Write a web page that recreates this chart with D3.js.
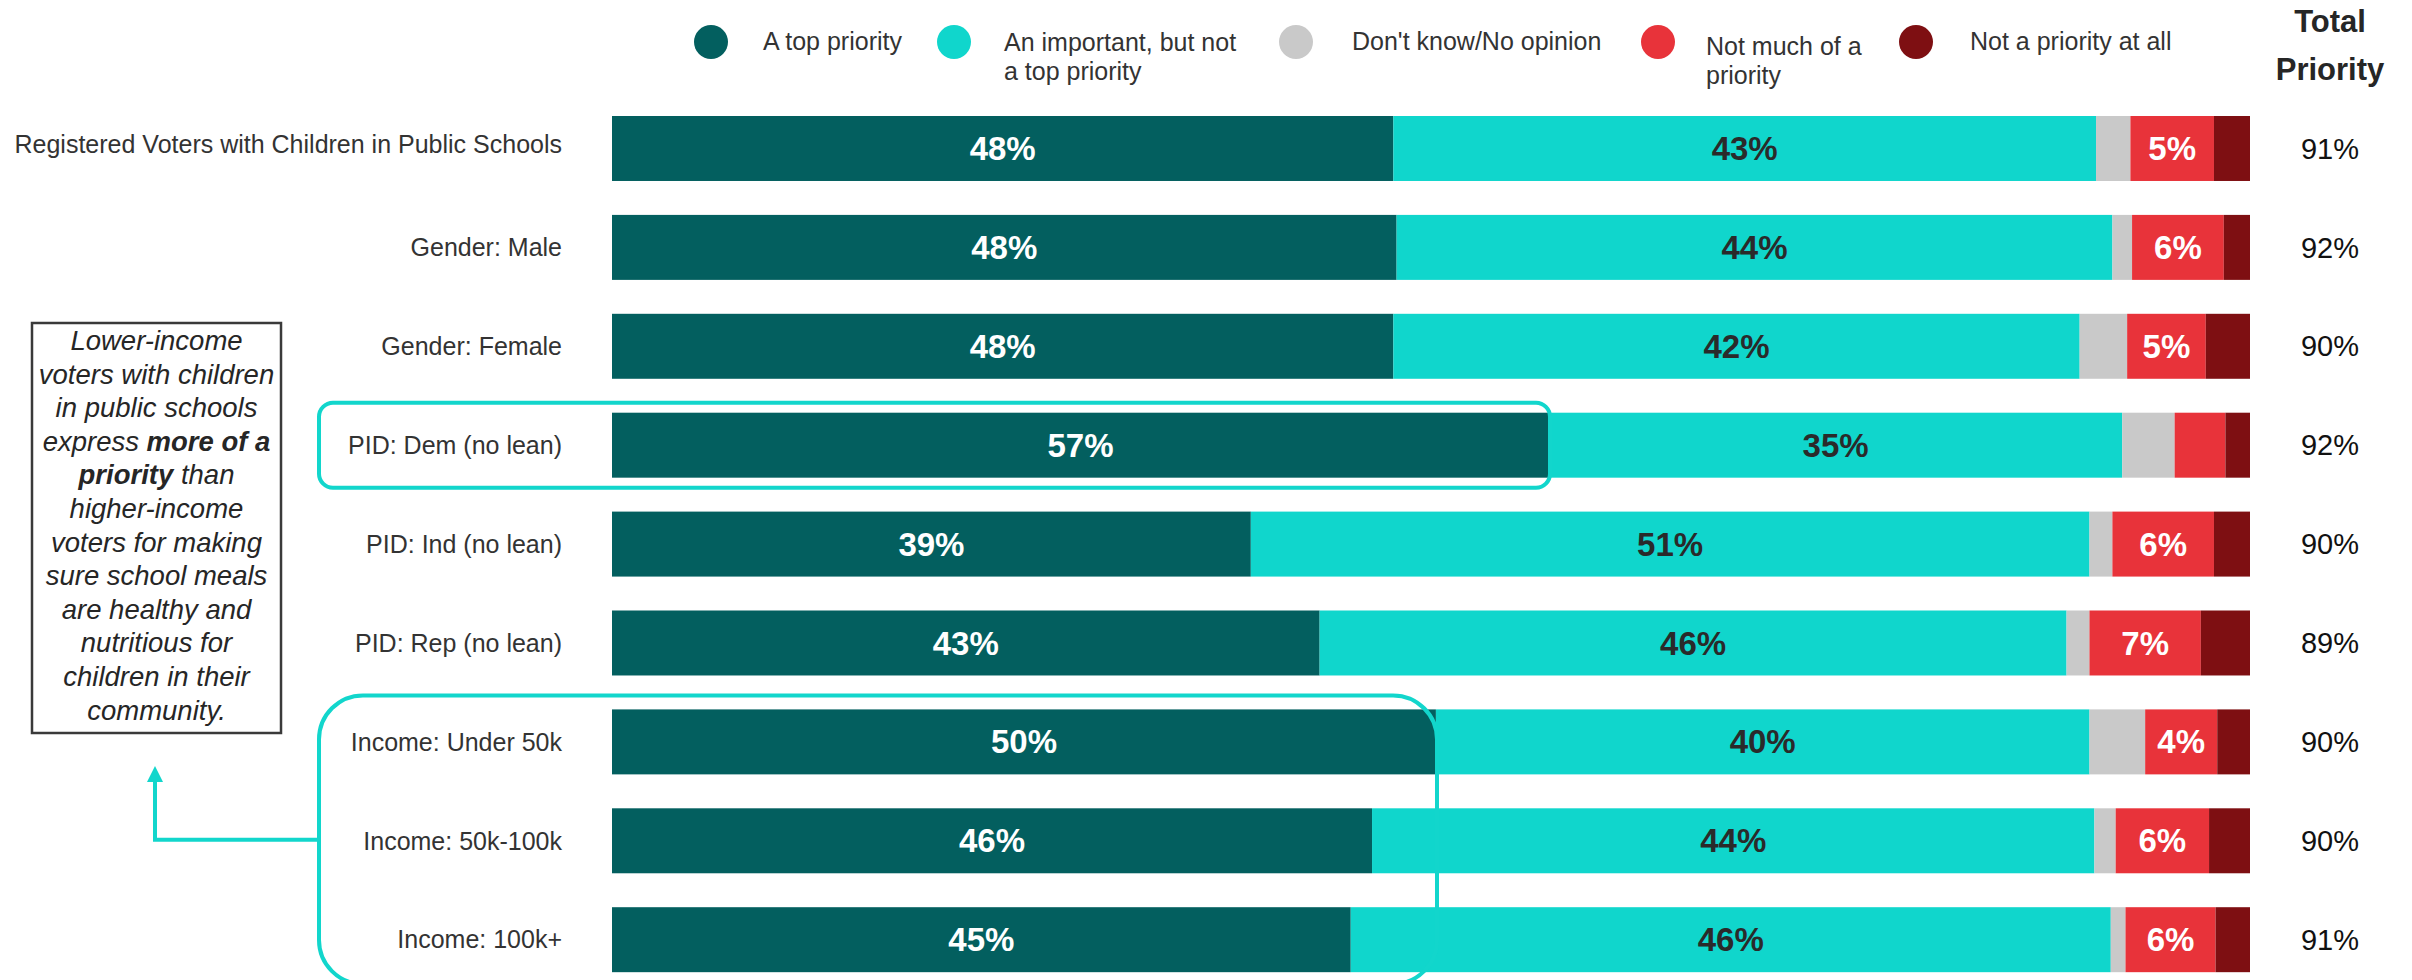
<!DOCTYPE html>
<html>
<head>
<meta charset="utf-8">
<script src="https://cdn.jsdelivr.net/npm/d3@7"></script>
<style>
  html, body { margin: 0; padding: 0; background: #fff; }
  svg { display: block; font-family: "Liberation Sans", Arial, sans-serif; }
</style>
</head>
<body>
<svg id="chart" width="2412" height="980"></svg>
<script>
// ---------------- DATA ----------------
const categories = [
  "Registered Voters with Children in Public Schools",
  "Gender: Male",
  "Gender: Female",
  "PID: Dem (no lean)",
  "PID: Ind (no lean)",
  "PID: Rep (no lean)",
  "Income: Under 50k",
  "Income: 50k-100k",
  "Income: 100k+"
];
const seriesNames = [
  "A top priority",
  "An important, but not a top priority",
  "Don't know/No opinion",
  "Not much of a priority",
  "Not a priority at all"
];
const legendLabels = [
  ["A top priority"],
  ["An important, but not", "a top priority"],
  ["Don't know/No opinion"],
  ["Not much of a", "priority"],
  ["Not a priority at all"]
];
const topPriority   = [47.7, 47.9, 47.7, 57.2, 39.0, 43.2, 50.3, 46.4, 45.1];
const importantNot  = [42.9, 43.7, 41.9, 35.0, 51.2, 45.6, 39.9, 44.1, 46.4];
const dontKnow      = [ 2.1,  1.2,  2.9,  3.2,  1.4,  1.4,  3.4,  1.3,  0.9];
const notMuch       = [ 5.1,  5.6,  4.8,  3.1,  6.2,  6.8,  4.4,  5.7,  5.5];
const notAtAll      = [ 2.2,  1.6,  2.7,  1.5,  2.2,  3.0,  2.0,  2.5,  2.1];
const totalPriority = [91, 92, 90, 92, 90, 89, 90, 90, 91];
const totalHeader = ["Total", "Priority"];
const annotationLines = [
  [["Lower-income", false]],
  [["voters with children", false]],
  [["in public schools", false]],
  [["express ", false], ["more of a", true]],
  [["priority", true], [" than", false]],
  [["higher-income", false]],
  [["voters for making", false]],
  [["sure school meals", false]],
  [["are healthy and", false]],
  [["nutritious for", false]],
  [["children in their", false]],
  [["community.", false]]
];

// ---------------- STYLE ----------------
const colors = ["#035F5F", "#10D6CC", "#C9C9C9", "#E8333A", "#7E0F12"];
const labelColors = ["#ffffff", "#2a2a2a", null, "#ffffff", null];
const accent = "#12D6CC";

const svg = d3.select("#chart");

const table = categories.map((c, i) => ({
  cat: c,
  s0: topPriority[i], s1: importantNot[i], s2: dontKnow[i], s3: notMuch[i], s4: notAtAll[i]
}));
const keys = ["s0", "s1", "s2", "s3", "s4"];
const stacked = d3.stack().keys(keys)(table);

const x = d3.scaleLinear().domain([0, 100]).range([612, 2250]);
const y = d3.scaleBand().domain(categories).range([99.04, 989.14])
  .paddingInner(0.343).paddingOuter(0.1715);

// Bars
const layers = svg.append("g").selectAll("g").data(stacked).join("g")
  .attr("fill", (d, i) => colors[i]);
layers.selectAll("rect").data(d => d.map(v => ({v, cat: v.data.cat}))).join("rect")
  .attr("x", d => x(d.v[0]))
  .attr("y", d => y(d.cat))
  .attr("width", d => x(d.v[1]) - x(d.v[0]))
  .attr("height", y.bandwidth());

// Bar value labels
stacked.forEach((layer, si) => {
  if (!labelColors[si]) return;
  svg.append("g").selectAll("text").data(layer).join("text")
    .filter(d => x(d[1]) - x(d[0]) > 60)
    .attr("x", d => (x(d[0]) + x(d[1])) / 2)
    .attr("y", d => y(d.data.cat) + y.bandwidth() / 2)
    .attr("dy", "0.35em")
    .attr("text-anchor", "middle")
    .attr("font-size", 33)
    .attr("font-weight", "bold")
    .attr("fill", labelColors[si])
    .text(d => Math.round(d[1] - d[0]) + "%");
});

// Category axis (labels only)
const yAxis = d3.axisLeft(y).tickSize(0).tickPadding(0);
const gy = svg.append("g").attr("transform", "translate(562,0)").call(yAxis);
gy.select(".domain").remove();
gy.selectAll("text")
  .attr("font-size", 25)
  .attr("font-family", "'Liberation Sans', Arial, sans-serif")
  .attr("fill", "#333")
  .attr("dy", (d, i) => i === 0 ? "0.2em" : "0.35em");

// Totals
svg.append("g").selectAll("text").data(categories).join("text")
  .attr("x", 2330)
  .attr("y", d => y(d) + y.bandwidth() / 2)
  .attr("dy", "0.35em")
  .attr("text-anchor", "middle")
  .attr("font-size", 29)
  .attr("fill", "#111")
  .text((d, i) => totalPriority[i] + "%");

svg.append("text")
  .attr("x", 2330).attr("text-anchor", "middle")
  .attr("font-size", 31).attr("font-weight", "bold").attr("fill", "#262626")
  .selectAll("tspan").data(totalHeader).join("tspan")
  .attr("x", 2330)
  .attr("y", (d, i) => 32 + i * 48)
  .text(d => d);

// Legend
const legendCx = [711, 954, 1296, 1658, 1916];
const legendTx = [763, 1004, 1352, 1706, 1970];
const legendBase = [50, 51, 50, 55, 50];
const lg = svg.append("g");
seriesNames.forEach((name, i) => {
  lg.append("circle").attr("cx", legendCx[i]).attr("cy", 42).attr("r", 17).attr("fill", colors[i]);
  const t = lg.append("text").attr("font-size", 25).attr("fill", "#333");
  legendLabels[i].forEach((line, j) => {
    t.append("tspan").attr("x", legendTx[i]).attr("y", legendBase[i] + j * 29).text(line);
  });
});

// Highlight boxes
const demCat = categories[3];
svg.append("rect")
  .attr("x", 319).attr("y", y(demCat) - 10)
  .attr("width", 1550 - 319).attr("height", y.bandwidth() + 20)
  .attr("rx", 14).attr("ry", 14)
  .attr("fill", "none").attr("stroke", accent).attr("stroke-width", 4);

svg.append("rect")
  .attr("x", 319).attr("y", y(categories[6]) - 14)
  .attr("width", 1437 - 319).attr("height", 984 - (y(categories[6]) - 14))
  .attr("rx", 44).attr("ry", 44)
  .attr("fill", "none").attr("stroke", accent).attr("stroke-width", 4);

// Arrow from income box to annotation
const arrowY = y(categories[7]) + y.bandwidth() / 2 - 1;
svg.append("path")
  .attr("d", `M319,${arrowY} H155 V780`)
  .attr("fill", "none").attr("stroke", accent).attr("stroke-width", 4);
svg.append("path")
  .attr("d", "M147,782 L155,766 L163,782 Z")
  .attr("fill", accent);

// Annotation box
svg.append("rect")
  .attr("x", 32).attr("y", 323).attr("width", 249).attr("height", 410)
  .attr("fill", "none").attr("stroke", "#3a3a3a").attr("stroke-width", 2.5);
const ann = svg.append("text")
  .attr("text-anchor", "middle").attr("font-size", 27.5)
  .attr("font-style", "italic").attr("fill", "#262626");
annotationLines.forEach((parts, i) => {
  parts.forEach((p, k) => {
    const ts = ann.append("tspan").text(p[0]).attr("font-weight", p[1] ? "bold" : "normal");
    if (k === 0) ts.attr("x", 156.5).attr("y", 350 + i * 33.6);
  });
});
</script>
</body>
</html>
